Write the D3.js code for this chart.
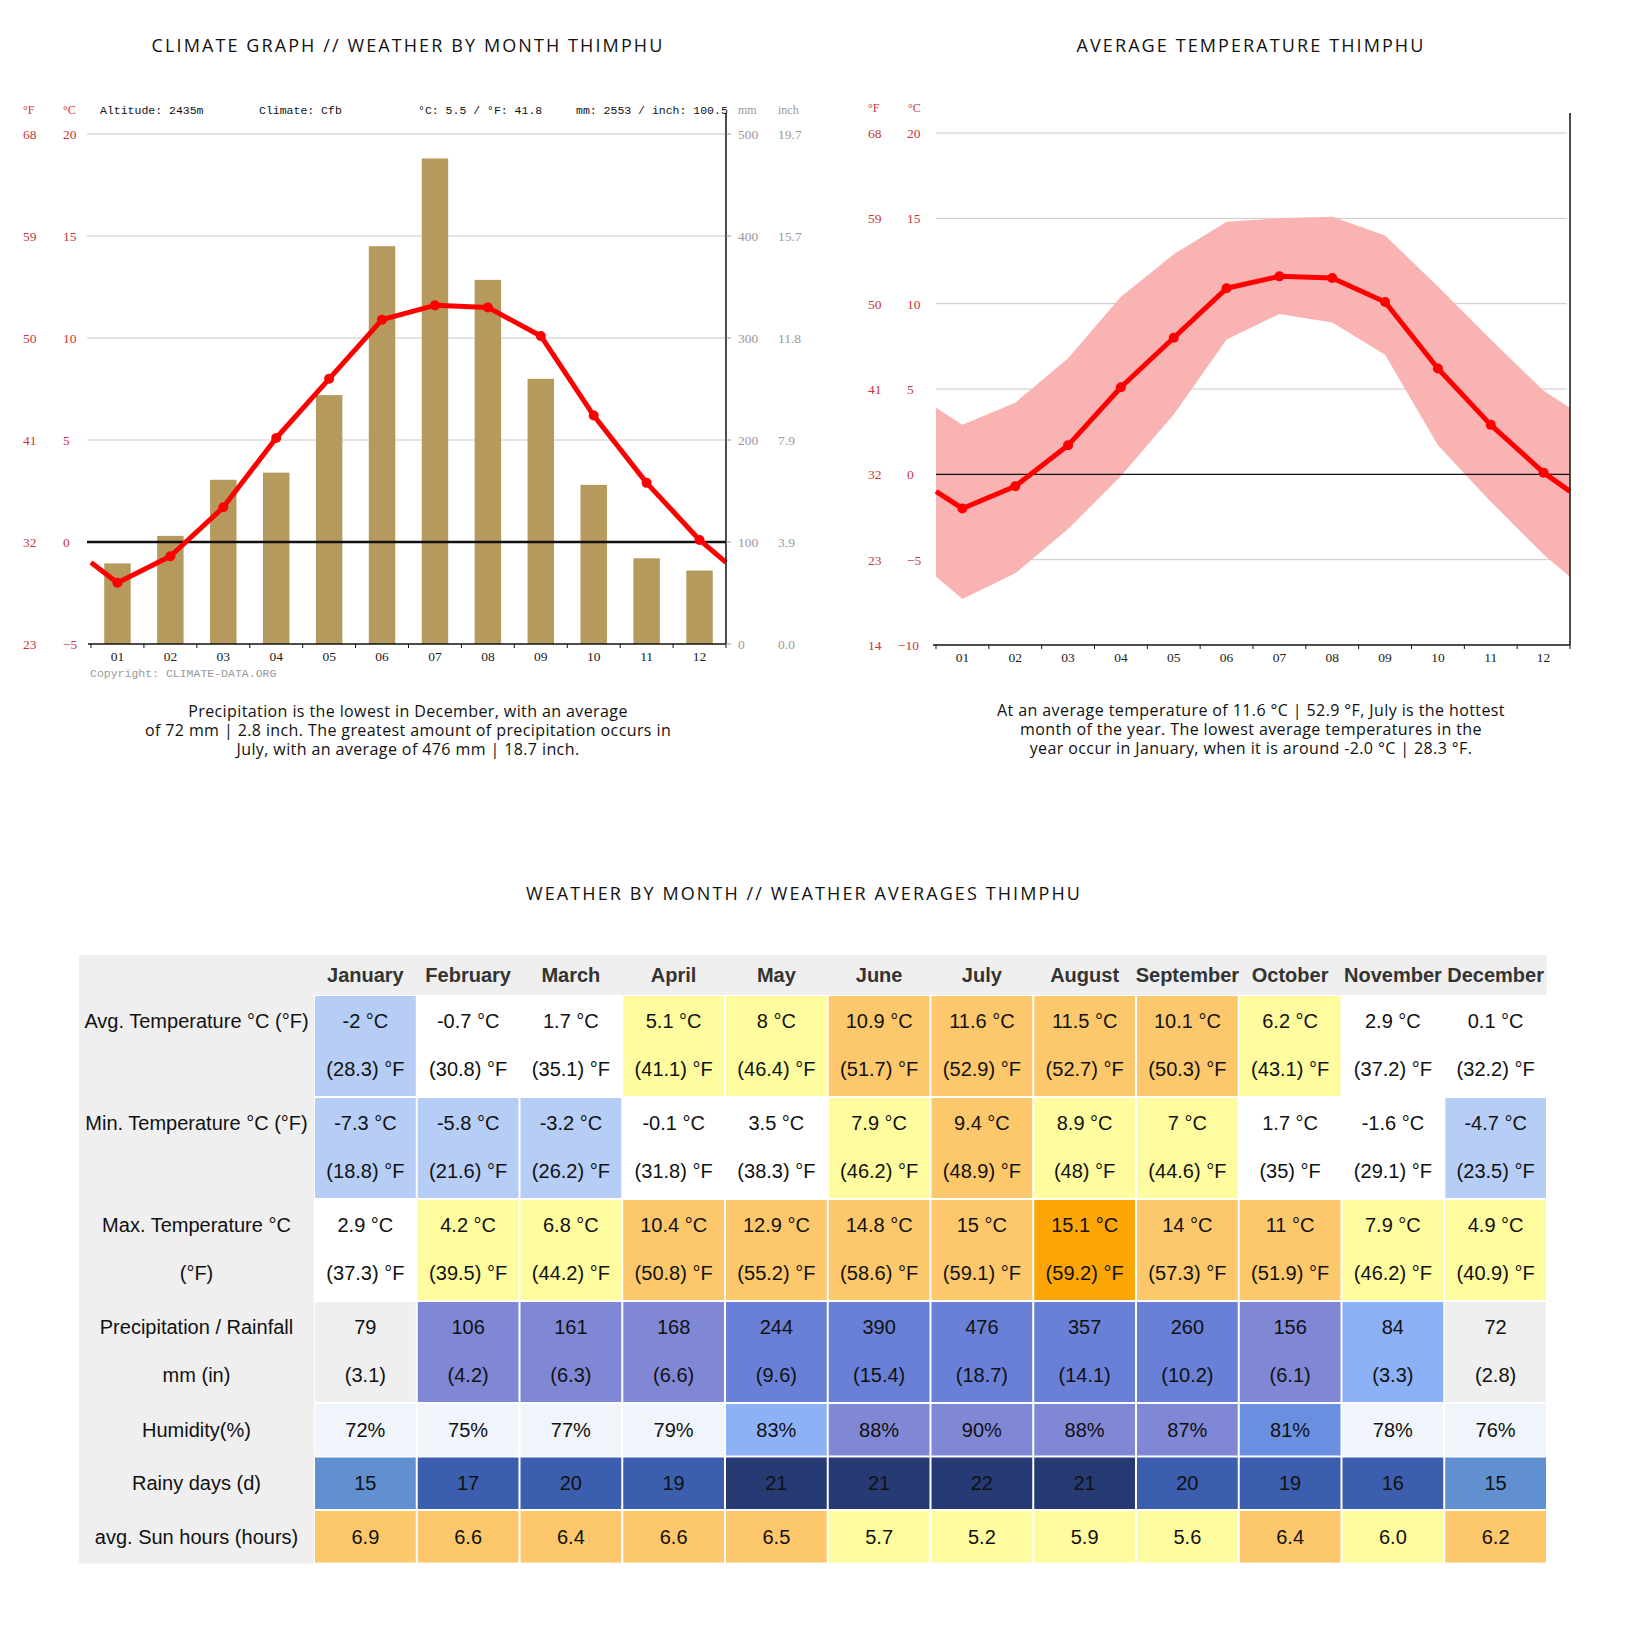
<!DOCTYPE html>
<html>
<head>
<meta charset="utf-8">
<script src="https://cdn.jsdelivr.net/npm/d3@7"></script>
<style>
  body { margin: 0; background: #fff; }
  .title { font-family: "Open Sans", sans-serif; font-size: 18px; letter-spacing: 2.1px; fill: #111; }
  .caption { font-family: "Open Sans", sans-serif; font-size: 16px; letter-spacing: 0.4px; fill: #111; }
  .mono { font-family: "Liberation Mono", monospace; font-size: 11.5px; fill: #111; }
  .num { font-family: "Liberation Serif", serif; font-size: 13.5px; }
  .cell { font-family: "Liberation Sans", Arial, sans-serif; font-size: 20px; fill: #111; }
  .head { font-family: "Liberation Sans", Arial, sans-serif; font-size: 20px; font-weight: bold; fill: #333; }
</style>
</head>
<body>
<svg id="page" width="1630" height="1632"></svg>
<script>
// ---- data
const months = ["01", "02", "03", "04", "05", "06", "07", "08", "09", "10", "11", "12"];
const monthNames = ["January", "February", "March", "April", "May", "June", "July",
  "August", "September", "October", "November", "December"];

const precipMm = [79, 106, 161, 168, 244, 390, 476, 357, 260, 156, 84, 72];
const precipIn = [3.1, 4.2, 6.3, 6.6, 9.6, 15.4, 18.7, 14.1, 10.2, 6.1, 3.3, 2.8];
const avgC = [-2, -0.7, 1.7, 5.1, 8, 10.9, 11.6, 11.5, 10.1, 6.2, 2.9, 0.1];
const avgF = [28.3, 30.8, 35.1, 41.1, 46.4, 51.7, 52.9, 52.7, 50.3, 43.1, 37.2, 32.2];
const minC = [-7.3, -5.8, -3.2, -0.1, 3.5, 7.9, 9.4, 8.9, 7, 1.7, -1.6, -4.7];
const minF = [18.8, 21.6, 26.2, 31.8, 38.3, 46.2, 48.9, 48, 44.6, 35, 29.1, 23.5];
const maxC = [2.9, 4.2, 6.8, 10.4, 12.9, 14.8, 15, 15.1, 14, 11, 7.9, 4.9];
const maxF = [37.3, 39.5, 44.2, 50.8, 55.2, 58.6, 59.1, 59.2, 57.3, 51.9, 46.2, 40.9];
const humidity = [72, 75, 77, 79, 83, 88, 90, 88, 87, 81, 78, 76];
const rainyDays = [15, 17, 20, 19, 21, 21, 22, 21, 20, 19, 16, 15];
const sunHours = [6.9, 6.6, 6.4, 6.6, 6.5, 5.7, 5.2, 5.9, 5.6, 6.4, 6.0, 6.2];

// values where the lines meet the left / right plot edges
const edgeAvg = -1.0;
const edgeMin = -6.0;
const edgeMax = 3.9;

const climateTicksC = [20, 15, 10, 5, 0, -5];
const climateTicksF = [68, 59, 50, 41, 32, 23];
const mmTicks = [500, 400, 300, 200, 100, 0];
const inchTicks = ["19.7", "15.7", "11.8", "7.9", "3.9", "0.0"];
const tempTicksC = [20, 15, 10, 5, 0, -5, -10];
const tempTicksF = [68, 59, 50, 41, 32, 23, 14];

const headerInfo = ["Altitude: 2435m", "Climate: Cfb", "°C: 5.5 / °F: 41.8", "mm: 2553 / inch: 100.5"];

const leftCaption = [
  "Precipitation is the lowest in December, with an average",
  "of 72 mm | 2.8 inch. The greatest amount of precipitation occurs in",
  "July, with an average of 476 mm | 18.7 inch."
];
const rightCaption = [
  "At an average temperature of 11.6 °C | 52.9 °F, July is the hottest",
  "month of the year. The lowest average temperatures in the",
  "year occur in January, when it is around -2.0 °C | 28.3 °F."
];

const RED = "#ff0000";
const LABEL_RED = "#c8363c";

const svg = d3.select("#page");

// ---- titles
svg.append("text").attr("class", "title").attr("x", 408).attr("y", 52)
  .attr("text-anchor", "middle").text("CLIMATE GRAPH // WEATHER BY MONTH THIMPHU");
svg.append("text").attr("class", "title").attr("x", 1251).attr("y", 52)
  .attr("text-anchor", "middle").text("AVERAGE TEMPERATURE THIMPHU");
svg.append("text").attr("class", "title").attr("x", 804).attr("y", 900)
  .attr("text-anchor", "middle").text("WEATHER BY MONTH // WEATHER AVERAGES THIMPHU");

// ================= left chart: climate graph
const L = { left: 91, right: 726, top: 134, bottom: 644 };
const xL = d3.scaleBand().domain(months).range([L.left, L.right]).paddingInner(0.5).paddingOuter(0.25);
const xLedge = d3.scaleLinear().domain([0, 12]).range([L.left, L.right]);
const yT = d3.scaleLinear().domain([-5, 20]).range([L.bottom, L.top]);
const yP = d3.scaleLinear().domain([0, 500]).range([L.bottom, L.top]);
const midL = (m) => xL(m) + xL.bandwidth() / 2;

const gL = svg.append("g");

// header line
gL.append("text").attr("class", "num").attr("x", 23).attr("y", 114).attr("fill", LABEL_RED).style("font-size", "12px").text("°F");
gL.append("text").attr("class", "num").attr("x", 63).attr("y", 114).attr("fill", LABEL_RED).style("font-size", "12px").text("°C");
[100, 259, 418, 576].forEach((x, i) => {
  gL.append("text").attr("class", "mono").attr("x", x).attr("y", 114).text(headerInfo[i]);
});
gL.append("text").attr("class", "num").attr("x", 738).attr("y", 114).attr("fill", "#999").style("font-size", "12px").text("mm");
gL.append("text").attr("class", "num").attr("x", 778).attr("y", 114).attr("fill", "#999").style("font-size", "12px").text("inch");

// grid
gL.selectAll("line.grid").data(climateTicksC.filter((t) => t > 0)).enter().append("line")
  .attr("x1", L.left - 4).attr("x2", L.right)
  .attr("y1", (d) => yT(d)).attr("y2", (d) => yT(d))
  .attr("stroke", "#c8c8c8").attr("stroke-width", 1);

// left labels
gL.selectAll("text.f").data(climateTicksF).enter().append("text")
  .attr("class", "num").attr("x", 23).attr("y", (d, i) => yT(climateTicksC[i]) + 5)
  .attr("fill", LABEL_RED).text((d) => d);
gL.selectAll("text.c").data(climateTicksC).enter().append("text")
  .attr("class", "num").attr("x", 63).attr("y", (d) => yT(d) + 5)
  .attr("fill", LABEL_RED).text((d) => (d < 0 ? "\u2212" + Math.abs(d) : d));

// bars
gL.selectAll("rect.bar").data(precipMm).enter().append("rect")
  .attr("x", (d, i) => xL(months[i])).attr("width", xL.bandwidth())
  .attr("y", (d) => yP(d)).attr("height", (d) => yP(0) - yP(d))
  .attr("fill", "#b6995c");

// zero line
gL.append("line").attr("x1", L.left - 4).attr("x2", L.right)
  .attr("y1", yT(0)).attr("y2", yT(0)).attr("stroke", "#111").attr("stroke-width", 2.5);

// temperature line
const ptsL = [[L.left, edgeAvg]].concat(avgC.map((v, i) => [midL(months[i]), v]), [[L.right, edgeAvg]]);
gL.append("path").datum(ptsL)
  .attr("fill", "none").attr("stroke", RED).attr("stroke-width", 5).attr("stroke-linejoin", "round")
  .attr("d", d3.line().x((d) => d[0]).y((d) => yT(d[1])));
gL.selectAll("circle.pt").data(avgC).enter().append("circle")
  .attr("cx", (d, i) => midL(months[i])).attr("cy", (d) => yT(d)).attr("r", 5).attr("fill", RED);

// x axis
gL.append("line").attr("x1", L.left - 3).attr("x2", L.right).attr("y1", L.bottom).attr("y2", L.bottom)
  .attr("stroke", "#111").attr("stroke-width", 1.5);
gL.selectAll("line.xt").data(d3.range(13)).enter().append("line")
  .attr("x1", (d) => xLedge(d)).attr("x2", (d) => xLedge(d))
  .attr("y1", L.bottom).attr("y2", L.bottom + 4).attr("stroke", "#111");
gL.selectAll("text.xl").data(months).enter().append("text")
  .attr("class", "num").attr("x", (d) => midL(d)).attr("y", L.bottom + 17)
  .attr("text-anchor", "middle").attr("fill", "#222").text((d) => d);
gL.append("text").attr("class", "mono").attr("x", 90).attr("y", 677).style("fill", "#999")
  .text("Copyright: CLIMATE-DATA.ORG");

// right axis
gL.append("line").attr("x1", L.right).attr("x2", L.right).attr("y1", 113).attr("y2", L.bottom)
  .attr("stroke", "#111").attr("stroke-width", 1.5);
gL.selectAll("line.rt").data(mmTicks).enter().append("line")
  .attr("x1", L.right).attr("x2", L.right + 5).attr("y1", (d) => yP(d)).attr("y2", (d) => yP(d))
  .attr("stroke", "#999");
gL.selectAll("text.mm").data(mmTicks).enter().append("text")
  .attr("class", "num").attr("x", 738).attr("y", (d) => yP(d) + 5).attr("fill", "#999").text((d) => d);
gL.selectAll("text.inch").data(inchTicks).enter().append("text")
  .attr("class", "num").attr("x", 778).attr("y", (d, i) => yP(mmTicks[i]) + 5).attr("fill", "#999").text((d) => d);

// caption
leftCaption.forEach((t, i) => {
  svg.append("text").attr("class", "caption").attr("x", 408).attr("y", 717 + i * 19)
    .attr("text-anchor", "middle").text(t);
});

// ================= right chart: average temperature
const R = { left: 936, right: 1570, top: 133, bottom: 645 };
const xR = d3.scaleBand().domain(months).range([R.left, R.right]);
const xRedge = d3.scaleLinear().domain([0, 12]).range([R.left, R.right]);
const yR = d3.scaleLinear().domain([-10, 20]).range([R.bottom, R.top]);
const midR = (m) => xR(m) + xR.bandwidth() / 2;

const gR = svg.append("g");
gR.append("text").attr("class", "num").attr("x", 868).attr("y", 112).attr("fill", LABEL_RED).style("font-size", "12px").text("°F");
gR.append("text").attr("class", "num").attr("x", 908).attr("y", 112).attr("fill", LABEL_RED).style("font-size", "12px").text("°C");

gR.selectAll("line.grid").data(tempTicksC.filter((t) => t !== 0 && t > -10)).enter().append("line")
  .attr("x1", R.left).attr("x2", R.right - 3)
  .attr("y1", (d) => yR(d)).attr("y2", (d) => yR(d))
  .attr("stroke", "#c8c8c8").attr("stroke-width", 1);

gR.selectAll("text.f").data(tempTicksF).enter().append("text")
  .attr("class", "num").attr("x", 868).attr("y", (d, i) => yR(tempTicksC[i]) + 5)
  .attr("fill", LABEL_RED).text((d) => d);
gR.selectAll("text.c").data(tempTicksC).enter().append("text")
  .attr("class", "num").attr("x", (d) => (d <= -10 ? 898 : 907)).attr("y", (d) => yR(d) + 5)
  .attr("fill", LABEL_RED).text((d) => (d < 0 ? "\u2212" + Math.abs(d) : d));

// min-max band
const bandPts = [[R.left, edgeMin, edgeMax]]
  .concat(minC.map((v, i) => [midR(months[i]), v, maxC[i]]), [[R.right, edgeMin, edgeMax]]);
gR.append("path").datum(bandPts)
  .attr("fill", "#f9b3b3")
  .attr("d", d3.area().x((d) => d[0]).y0((d) => yR(d[1])).y1((d) => yR(d[2])));

gR.append("line").attr("x1", R.left).attr("x2", R.right)
  .attr("y1", yR(0)).attr("y2", yR(0)).attr("stroke", "#111").attr("stroke-width", 1.3);

const ptsR = [[R.left, edgeAvg]].concat(avgC.map((v, i) => [midR(months[i]), v]), [[R.right, edgeAvg]]);
gR.append("path").datum(ptsR)
  .attr("fill", "none").attr("stroke", RED).attr("stroke-width", 5).attr("stroke-linejoin", "round")
  .attr("d", d3.line().x((d) => d[0]).y((d) => yR(d[1])));
gR.selectAll("circle.pt").data(avgC).enter().append("circle")
  .attr("cx", (d, i) => midR(months[i])).attr("cy", (d) => yR(d)).attr("r", 5).attr("fill", RED);

gR.append("line").attr("x1", R.left - 3).attr("x2", R.right).attr("y1", R.bottom).attr("y2", R.bottom)
  .attr("stroke", "#111").attr("stroke-width", 1.5);
gR.selectAll("line.xt").data(d3.range(13)).enter().append("line")
  .attr("x1", (d) => xRedge(d)).attr("x2", (d) => xRedge(d))
  .attr("y1", R.bottom).attr("y2", R.bottom + 4).attr("stroke", "#111");
gR.selectAll("text.xl").data(months).enter().append("text")
  .attr("class", "num").attr("x", (d) => midR(d)).attr("y", R.bottom + 17)
  .attr("text-anchor", "middle").attr("fill", "#222").text((d) => d);
gR.append("line").attr("x1", R.right).attr("x2", R.right).attr("y1", 113).attr("y2", R.bottom)
  .attr("stroke", "#111").attr("stroke-width", 1.5);

rightCaption.forEach((t, i) => {
  svg.append("text").attr("class", "caption").attr("x", 1251).attr("y", 716 + i * 19)
    .attr("text-anchor", "middle").text(t);
});

// ================= table
const T = { left: 79, labelRight: 314, right: 1547, top: 955 };
const colX = d3.scaleBand().domain(monthNames).range([T.labelRight, T.right]);
const rowHeights = [40, 102, 102, 102, 102, 53.5, 53.5, 53.5];
const rowTops = [T.top].concat(Array.from(d3.cumsum(rowHeights)).map((h) => T.top + h));

const GRAY = "#efefef";
const tempColor = d3.scaleThreshold().domain([-1.9, 4, 9, 15.05])
  .range(["#b6cdf6", "#ffffff", "#fffca0", "#fdc76b", "#fba507"]);
const precipColor = d3.scaleThreshold().domain([80, 100, 200])
  .range([GRAY, "#8cb1f7", "#8088d6", "#6980d6"]);
const humidColor = d3.scaleThreshold().domain([80, 82, 85])
  .range(["#f0f5fb", "#6a8fe0", "#8cb1f7", "#8088d6"]);
const rainColor = d3.scaleThreshold().domain([16, 21])
  .range(["#6090d0", "#3b5fae", "#263b74"]);
const sunColor = d3.scaleThreshold().domain([6.1]).range(["#fffca0", "#fdc76b"]);

const rows = [
  { label: ["Avg. Temperature °C (°F)"], color: (i) => tempColor(avgC[i]),
    lines: (i) => [`${avgC[i]} °C`, `(${avgF[i]}) °F`] },
  { label: ["Min. Temperature °C (°F)"], color: (i) => tempColor(minC[i]),
    lines: (i) => [`${minC[i]} °C`, `(${minF[i]}) °F`] },
  { label: ["Max. Temperature °C", "(°F)"], color: (i) => tempColor(maxC[i]),
    lines: (i) => [`${maxC[i]} °C`, `(${maxF[i]}) °F`] },
  { label: ["Precipitation / Rainfall", "mm (in)"], color: (i) => precipColor(precipMm[i]),
    lines: (i) => [`${precipMm[i]}`, `(${precipIn[i].toFixed(1)})`] },
  { label: ["Humidity(%)"], color: (i) => humidColor(humidity[i]),
    lines: (i) => [`${humidity[i]}%`] },
  { label: ["Rainy days (d)"], color: (i) => rainColor(rainyDays[i]),
    lines: (i) => [`${rainyDays[i]}`] },
  { label: ["avg. Sun hours (hours)"], color: (i) => sunColor(sunHours[i]),
    lines: (i) => [sunHours[i].toFixed(1)] }
];

const gT = svg.append("g");
gT.append("rect").attr("x", T.left).attr("y", T.top)
  .attr("width", T.right - T.left).attr("height", rowTops[rowTops.length - 1] - T.top).attr("fill", GRAY);
gT.append("rect").attr("x", T.labelRight).attr("y", rowTops[1])
  .attr("width", T.right - T.labelRight).attr("height", rowTops[rowTops.length - 1] - rowTops[1]).attr("fill", "#fff");

gT.selectAll("text.head").data(monthNames).enter().append("text")
  .attr("class", "head").attr("x", (d) => colX(d) + colX.bandwidth() / 2)
  .attr("y", rowTops[0] + 27).attr("text-anchor", "middle").text((d) => d);

rows.forEach((row, r) => {
  const top = rowTops[r + 1];
  const h = rowHeights[r + 1];
  const lineY = (k) => (h > 60 ? top + 33 + k * 48 : top + h / 2 + 7);

  row.label.forEach((t, k) => {
    gT.append("text").attr("class", "cell").attr("x", (T.left + T.labelRight) / 2)
      .attr("y", lineY(k)).attr("text-anchor", "middle").text(t);
  });

  const cells = gT.selectAll(null).data(monthNames).enter().append("g");
  cells.append("rect")
    .attr("x", (d) => colX(d) + 1).attr("y", top + 1)
    .attr("width", colX.bandwidth() - 2).attr("height", h - 2)
    .attr("fill", (d, i) => row.color(i));
  cells.each(function (d, i) {
    row.lines(i).forEach((t, k) => {
      d3.select(this).append("text").attr("class", "cell")
        .attr("x", colX(d) + colX.bandwidth() / 2).attr("y", lineY(k))
        .attr("text-anchor", "middle").text(t);
    });
  });
});
</script>
</body>
</html>
